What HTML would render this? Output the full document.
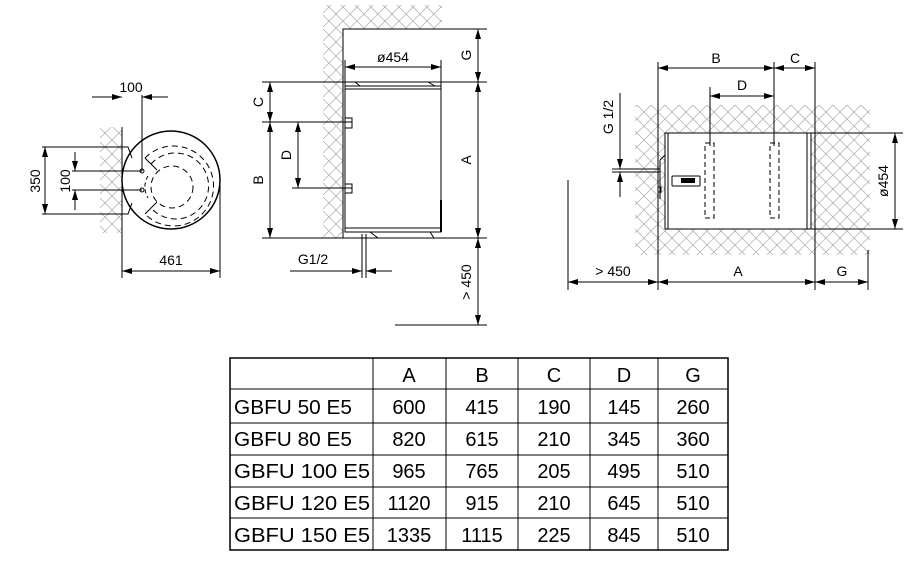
<!DOCTYPE html>
<html><head><meta charset="utf-8"><style>
html,body{margin:0;padding:0;background:#fff;}
svg{display:block;}
text{font-family:"Liberation Sans",Arial,sans-serif;fill:#000;}
</style></head><body>
<svg width="910" height="568" viewBox="0 0 910 568" xmlns="http://www.w3.org/2000/svg">
<defs>
<pattern id="h" width="14" height="14" patternUnits="userSpaceOnUse">
<path d="M0,0 L14,14 M14,0 L0,14" stroke="#aaa" stroke-width="0.7" fill="none"/>
</pattern>
<marker id="a" viewBox="0 0 10 6" refX="10" refY="3" markerWidth="10" markerHeight="6" orient="auto-start-reverse" markerUnits="userSpaceOnUse">
<path d="M0,0 L10,3 L0,6 z" fill="#000"/>
</marker>
</defs>
<g stroke="#000" stroke-width="1" fill="none">

<!-- ===== LEFT VIEW (top) ===== -->
<rect x="100" y="127" width="22" height="106" fill="url(#h)" stroke="none"/>
<line x1="122" y1="127" x2="122" y2="278"/>
<circle cx="171" cy="180" r="49" stroke-width="1.5" fill="#fff"/>
<path d="M122,147 L128,147 L132,158 M122,214 L128,214 L132,203" />
<circle cx="172" cy="187" r="21" stroke-dasharray="6,4"/>
<path d="M145,158 A40,40 0 1 1 145,214" stroke-dasharray="6,4"/>
<path d="M151,164 A33,33 0 1 1 151,208" stroke-dasharray="6,4"/>
<path d="M145,158 L157,170 L151,164 M145,214 L157,202 L151,208"/>
<path d="M148,176 A21,21 0 0 0 148,198" stroke-dasharray="4,3"/>
<circle cx="142" cy="171" r="2"/>
<circle cx="142" cy="190" r="2"/>
<line x1="142" y1="95" x2="142" y2="171"/>
<line x1="92" y1="97" x2="122" y2="97" marker-end="url(#a)"/>
<line x1="168" y1="97" x2="142" y2="97" marker-end="url(#a)"/>
<line x1="42" y1="147" x2="126" y2="147"/>
<line x1="42" y1="214" x2="126" y2="214"/>
<line x1="45" y1="147" x2="45" y2="214" marker-start="url(#a)" marker-end="url(#a)"/>
<line x1="72" y1="171" x2="142" y2="171"/>
<line x1="72" y1="190" x2="142" y2="190"/>
<line x1="75" y1="152" x2="75" y2="171" marker-end="url(#a)"/>
<line x1="75" y1="210" x2="75" y2="190" marker-end="url(#a)"/>
<line x1="220" y1="178" x2="220" y2="278"/>
<line x1="122" y1="271" x2="220" y2="271" marker-start="url(#a)" marker-end="url(#a)"/>

<!-- ===== MIDDLE VIEW ===== -->
<rect x="323" y="5" width="119" height="24" fill="url(#h)" stroke="none"/>
<rect x="323" y="29" width="20" height="209" fill="url(#h)" stroke="none"/>
<path d="M343,238 L343,29 L487,29"/>
<rect x="345" y="86" width="96" height="146" fill="#fff"/>
<path d="M345,86 L441,86 M345,89 L441,89 M355,82 L360,86 M428,82 L435,86"/>
<path d="M345,228 L441,228 M345,232 L441,232 M370,232 L378,238 M430,232 L434,238"/>
<line x1="441" y1="200" x2="441" y2="232" stroke-width="2"/>
<rect x="345" y="118" width="7" height="10" fill="#fff"/>
<rect x="345" y="184" width="7" height="9" fill="#fff"/>
<line x1="262" y1="82" x2="487" y2="82"/>
<line x1="262" y1="122" x2="352" y2="122"/>
<line x1="292" y1="188" x2="352" y2="188"/>
<line x1="262" y1="238" x2="487" y2="238"/>
<line x1="395" y1="325" x2="487" y2="325"/>
<line x1="345" y1="60" x2="345" y2="86"/>
<line x1="441" y1="60" x2="441" y2="86"/>
<line x1="345" y1="67" x2="441" y2="67" marker-start="url(#a)" marker-end="url(#a)"/>
<line x1="478" y1="29" x2="478" y2="82" marker-start="url(#a)" marker-end="url(#a)"/>
<line x1="478" y1="82" x2="478" y2="238" marker-start="url(#a)" marker-end="url(#a)"/>
<line x1="478" y1="238" x2="478" y2="325" marker-start="url(#a)" marker-end="url(#a)"/>
<line x1="270" y1="82" x2="270" y2="122" marker-start="url(#a)" marker-end="url(#a)"/>
<line x1="270" y1="122" x2="270" y2="238" marker-start="url(#a)" marker-end="url(#a)"/>
<line x1="298" y1="122" x2="298" y2="188" marker-start="url(#a)" marker-end="url(#a)"/>
<path d="M362,234 L362,278 M366,234 L366,278"/>
<line x1="290" y1="271" x2="362" y2="271" marker-end="url(#a)"/>
<line x1="392" y1="271" x2="366" y2="271" marker-end="url(#a)"/>

<!-- ===== RIGHT VIEW ===== -->
<rect x="635" y="105" width="235" height="150" fill="url(#h)" stroke="none"/>
<rect x="665" y="133" width="146" height="96" fill="#fff"/>
<path d="M665,133 L811,133 L811,229 L665,229 Z M668,133 L668,229 M807,133 L807,229" />
<line x1="811" y1="133" x2="903" y2="133"/>
<line x1="811" y1="229" x2="903" y2="229"/>
<line x1="895" y1="133" x2="895" y2="229" marker-start="url(#a)" marker-end="url(#a)"/>
<path d="M660,160 L660,199 M660,160 L665,155"/>
<rect x="658" y="187" width="3" height="5"/>
<path d="M612,169 L660,169 M612,172 L660,172"/>
<line x1="620" y1="93" x2="620" y2="169" marker-end="url(#a)"/>
<line x1="620" y1="197" x2="620" y2="172" marker-end="url(#a)"/>
<rect x="672" y="176" width="28" height="10" rx="1"/>
<rect x="681" y="178" width="14" height="5" fill="#000" stroke="none"/>
<rect x="705" y="143" width="9" height="75" stroke-dasharray="5,3"/>
<rect x="770" y="143" width="9" height="75" stroke-dasharray="5,3"/>
<line x1="710" y1="87" x2="710" y2="146"/>
<line x1="774" y1="62" x2="774" y2="146"/>
<line x1="658" y1="62" x2="658" y2="290"/>
<line x1="815" y1="62" x2="815" y2="290"/>
<line x1="568" y1="180" x2="568" y2="290"/>
<line x1="868" y1="250" x2="868" y2="290"/>
<line x1="658" y1="68" x2="774" y2="68" marker-start="url(#a)" marker-end="url(#a)"/>
<line x1="774" y1="68" x2="815" y2="68" marker-start="url(#a)" marker-end="url(#a)"/>
<line x1="710" y1="96" x2="774" y2="96" marker-start="url(#a)" marker-end="url(#a)"/>
<line x1="568" y1="282" x2="658" y2="282" marker-start="url(#a)" marker-end="url(#a)"/>
<line x1="658" y1="282" x2="815" y2="282" marker-start="url(#a)" marker-end="url(#a)"/>
<line x1="815" y1="282" x2="868" y2="282" marker-start="url(#a)" marker-end="url(#a)"/>

<!-- ===== TABLE ===== -->
<rect x="230" y="358" width="498" height="192" stroke-width="1.5"/>
<path d="M373,358 V550 M446,358 V550 M518,358 V550 M590,358 V550 M658,358 V550"/>
<path d="M230,389 H728 M230,423 H728 M230,455 H728 M230,487 H728 M230,518 H728"/>
</g>

<g font-size="14">
<text x="131" y="92" text-anchor="middle">100</text>
<text x="171" y="265" text-anchor="middle">461</text>
<text transform="translate(40,181) rotate(-90)" text-anchor="middle">350</text>
<text transform="translate(70,181) rotate(-90)" text-anchor="middle">100</text>
<text x="393" y="62" text-anchor="middle">ø454</text>
<text transform="translate(471,55) rotate(-90)" text-anchor="middle">G</text>
<text transform="translate(471,160) rotate(-90)" text-anchor="middle">A</text>
<text transform="translate(471,282) rotate(-90)" text-anchor="middle">&gt; 450</text>
<text transform="translate(263,102) rotate(-90)" text-anchor="middle">C</text>
<text transform="translate(263,180) rotate(-90)" text-anchor="middle">B</text>
<text transform="translate(291,155) rotate(-90)" text-anchor="middle">D</text>
<text x="313" y="264" text-anchor="middle">G1/2</text>
<text x="716" y="63" text-anchor="middle">B</text>
<text x="795" y="63" text-anchor="middle">C</text>
<text x="742" y="90" text-anchor="middle">D</text>
<text transform="translate(613,117) rotate(-90)" text-anchor="middle">G 1/2</text>
<text transform="translate(888,181) rotate(-90)" text-anchor="middle">ø454</text>
<text x="613" y="276" text-anchor="middle">&gt; 450</text>
<text x="738" y="276" text-anchor="middle">A</text>
<text x="842" y="276" text-anchor="middle">G</text>
</g>

<g font-size="20">
<g text-anchor="middle">
<text x="409" y="382">A</text><text x="482" y="382">B</text><text x="554" y="382">C</text><text x="624" y="382">D</text><text x="693" y="382">G</text>
<text x="409" y="414">600</text><text x="482" y="414">415</text><text x="554" y="414">190</text><text x="624" y="414">145</text><text x="693" y="414">260</text>
<text x="409" y="446">820</text><text x="482" y="446">615</text><text x="554" y="446">210</text><text x="624" y="446">345</text><text x="693" y="446">360</text>
<text x="409" y="478">965</text><text x="482" y="478">765</text><text x="554" y="478">205</text><text x="624" y="478">495</text><text x="693" y="478">510</text>
<text x="409" y="510">1120</text><text x="482" y="510">915</text><text x="554" y="510">210</text><text x="624" y="510">645</text><text x="693" y="510">510</text>
<text x="409" y="542">1335</text><text x="482" y="542">1115</text><text x="554" y="542">225</text><text x="624" y="542">845</text><text x="693" y="542">510</text>
</g>
<text x="234" y="414" textLength="118" lengthAdjust="spacingAndGlyphs">GBFU 50 E5</text>
<text x="234" y="446" textLength="118" lengthAdjust="spacingAndGlyphs">GBFU 80 E5</text>
<text x="234" y="478" textLength="136" lengthAdjust="spacingAndGlyphs">GBFU 100 E5</text>
<text x="234" y="510" textLength="136" lengthAdjust="spacingAndGlyphs">GBFU 120 E5</text>
<text x="234" y="542" textLength="136" lengthAdjust="spacingAndGlyphs">GBFU 150 E5</text>
</g>
</svg>
</body></html>
